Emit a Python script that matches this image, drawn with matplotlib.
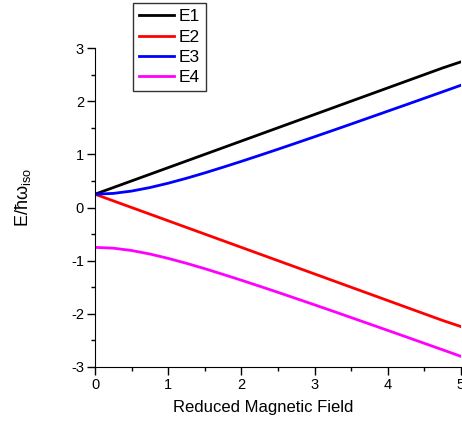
import matplotlib.pyplot as plt
from matplotlib.ticker import MultipleLocator

plt.rcParams['font.family'] = ['Liberation Sans', 'DejaVu Sans']
plt.rcParams['mathtext.fontset'] = 'custom'
plt.rcParams['mathtext.rm'] = 'Liberation Sans'
plt.rcParams['mathtext.it'] = 'Liberation Sans'
plt.rcParams['axes.unicode_minus'] = False

# Reduced magnetic field values
field = [0, 0.25, 0.5, 0.75, 1, 1.25, 1.5, 1.75, 2, 2.25, 2.5,
         2.75, 3, 3.25, 3.5, 3.75, 4, 4.25, 4.5, 4.75, 5]

# Energy levels
e1 = [0.25, 0.375, 0.5, 0.625, 0.75, 0.875, 1.0, 1.125, 1.25, 1.375, 1.5,
      1.625, 1.75, 1.875, 2.0, 2.125, 2.25, 2.375, 2.5, 2.625, 2.74]
e2 = [0.25, 0.125, 0.0, -0.125, -0.25, -0.375, -0.5, -0.625, -0.75, -0.875, -1.0,
      -1.125, -1.25, -1.375, -1.5, -1.625, -1.75, -1.875, -2.0, -2.125, -2.24]
e3 = [0.25, 0.265, 0.309, 0.375, 0.457, 0.55, 0.651, 0.758, 0.868, 0.981, 1.096,
      1.213, 1.331, 1.45, 1.57, 1.691, 1.812, 1.933, 2.055, 2.177, 2.3]
e4 = [-0.75, -0.765, -0.809, -0.875, -0.957, -1.05, -1.151, -1.258, -1.368, -1.481, -1.596,
      -1.713, -1.831, -1.95, -2.07, -2.191, -2.312, -2.433, -2.555, -2.677, -2.8]

fig = plt.figure(figsize=(4.62, 4.22), dpi=100)
ax = fig.add_axes([95 / 462, 1 - 367 / 422, 366 / 462, (367 - 48) / 422])

ax.plot(field, e1, color='black', lw=2, label='E1')
ax.plot(field, e2, color='red', lw=2, label='E2')
ax.plot(field, e3, color='blue', lw=2, label='E3')
ax.plot(field, e4, color='magenta', lw=2, label='E4')

ax.set_xlim(0, 5)
ax.set_ylim(-3, 3)
ax.xaxis.set_major_locator(MultipleLocator(1))
ax.xaxis.set_minor_locator(MultipleLocator(0.5))
ax.yaxis.set_major_locator(MultipleLocator(1))
ax.yaxis.set_minor_locator(MultipleLocator(0.5))
ax.tick_params(which='major', direction='out', length=6, width=1,
               labelsize=10.5, pad=2)
ax.tick_params(which='minor', direction='out', length=3, width=1)
ax.spines['top'].set_visible(False)
ax.spines['right'].set_visible(False)

ax.set_xlabel('Reduced Magnetic Field', fontsize=12)
ax.xaxis.set_label_coords(0.459, -0.105)
ax.set_ylabel(r'E/ħω$_{\mathrm{iso}}$', fontsize=13)
ax.yaxis.set_label_coords(-0.17, 0.53)

fig.legend(loc='upper left', bbox_to_anchor=(133 / 462, 1 - 3 / 422),
           fontsize=12.5, frameon=True, fancybox=False, edgecolor='black',
           handlelength=2.0, labelspacing=0.3, borderpad=0.35,
           handletextpad=0.3, borderaxespad=0)

fig.savefig('out.png', dpi=100)
